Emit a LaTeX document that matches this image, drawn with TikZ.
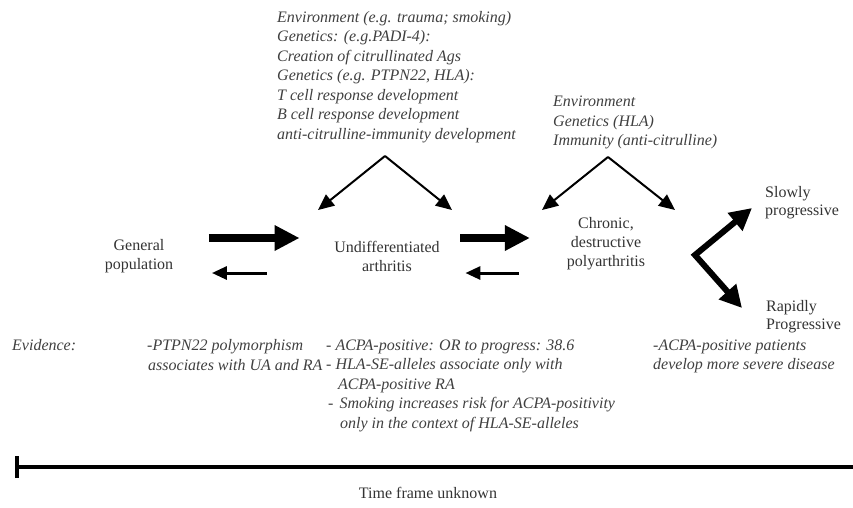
\documentclass[tikz,border=0pt]{standalone}
\usepackage{fontspec}
\setmainfont{Liberation Serif}
\usetikzlibrary{arrows.meta,positioning,calc}

\begin{document}
\begin{tikzpicture}[
  x=1pt, y=-1pt,
  stage/.style={
    align=center, inner sep=0pt, text=black!80,
    font=\fontsize{16}{19}\selectfont
  },
  factors/.style={
    align=left, inner sep=0pt, anchor=north west, text=black!75,
    font=\fontsize{16}{19.5}\selectfont\itshape
  },
  outcome/.style={
    align=left, inner sep=0pt, anchor=north west, text=black!80,
    font=\fontsize{16}{18.5}\selectfont
  },
  bigarr/.style={-{Triangle[length=25pt, width=24pt]}, line width=8pt},
  backarr/.style={-{Triangle[length=15pt, width=13pt]}, line width=3pt},
  influence/.style={-{Triangle[length=16pt, width=14pt]}, line width=2pt},
  branch/.style={{Triangle[length=22pt, width=22pt]}-{Triangle[length=22pt, width=22pt]},
    line width=6pt, line join=miter},
  timeline/.style={{Bar[width=22pt]}-, line width=3.5pt}
]
\useasboundingbox (0,0) rectangle (853,507);

% ---- Disease stages ----
\node[stage] (gp)  at (139,256.5) {General\\population};
\node[stage] (ua)  at (387,256.5) {Undifferentiated\\arthritis};
\node[stage] (cdp) at (606,244)   {Chronic,\\destructive\\polyarthritis};

\node[outcome] (slow)  at (765,186) {Slowly\\progressive};
\node[outcome] (rapid) at (766,300) {Rapidly\\Progressive};

% ---- Risk factors ----
\node[factors] (risk) at (277,11) {Environment (e.g. trauma; smoking)\\
  Genetics: (e.g.PADI-4):\\Creation of citrullinated Ags\\
  Genetics (e.g. PTPN22, HLA):\\T cell response development\\
  B cell response development\\anti-citrulline-immunity development};
\node[factors] (mod) at (553,96) {Environment\\Genetics (HLA)\\Immunity (anti-citrulline)};

% ---- Evidence ----
\node[factors] (evid) at (12,339.5)  {Evidence:};
\node[factors] (ptpn) at (147,339.5) {-PTPN22 polymorphism\\\hspace*{1pt}associates with UA and RA};
\node[factors] (acpa) at (326,339.5) {- ACPA-positive: OR to progress: 38.6\\
  - HLA-SE-alleles associate only with\\\hspace*{12pt}ACPA-positive RA\\
  \hspace*{2pt}-\hspace*{6pt}Smoking increases risk for ACPA-positivity\\
  \hspace*{14pt}only in the context of HLA-SE-alleles};
\node[factors] (sev)  at (653,339.5) {-ACPA-positive patients\\develop more severe disease};

\node[stage] (time) at (428,493) {Time frame unknown};

% ---- Free ends ----
\coordinate (apexA) at (385,156);
\coordinate (tipA1) at (318,210);
\coordinate (tipA2) at (452,210);
\coordinate (apexB) at (608,157);
\coordinate (tipB1) at (542,210);
\coordinate (tipB2) at (675,210);
\coordinate (fork)  at (695,255);
\coordinate (tipS)  at (752,208);
\coordinate (tipR)  at (742,308);
\coordinate (t0)    at (15,467);
\coordinate (t1)    at (853,467);

% ---- Progression ----
\draw[bigarr, shorten <=35.5pt, shorten >=34.5pt]
  ([yshift=18.5pt]gp.east) -- ([yshift=18.5pt]ua.west);
\draw[backarr, shorten <=67.5pt, shorten >=38.5pt]
  ([yshift=-16.5pt]ua.west) -- ([yshift=-16.5pt]gp.east);
\draw[bigarr, shorten <=20.5pt, shorten >=36.8pt]
  ([yshift=18.5pt]ua.east) -- ([yshift=6pt]cdp.west);
\draw[backarr, shorten <=47.8pt, shorten >=25.5pt]
  ([yshift=-29pt]cdp.west) -- ([yshift=-16.5pt]ua.east);

% ---- Influences ----
\draw[influence] (apexA) -- (tipA1);
\draw[influence] (apexA) -- (tipA2);
\draw[influence] (apexB) -- (tipB1);
\draw[influence] (apexB) -- (tipB2);

% ---- Outcome ----
\draw[branch] (tipR) -- (fork) -- (tipS);

% ---- Time line ----
\draw[timeline] (t0) -- (t1);

\end{tikzpicture}
\end{document}
